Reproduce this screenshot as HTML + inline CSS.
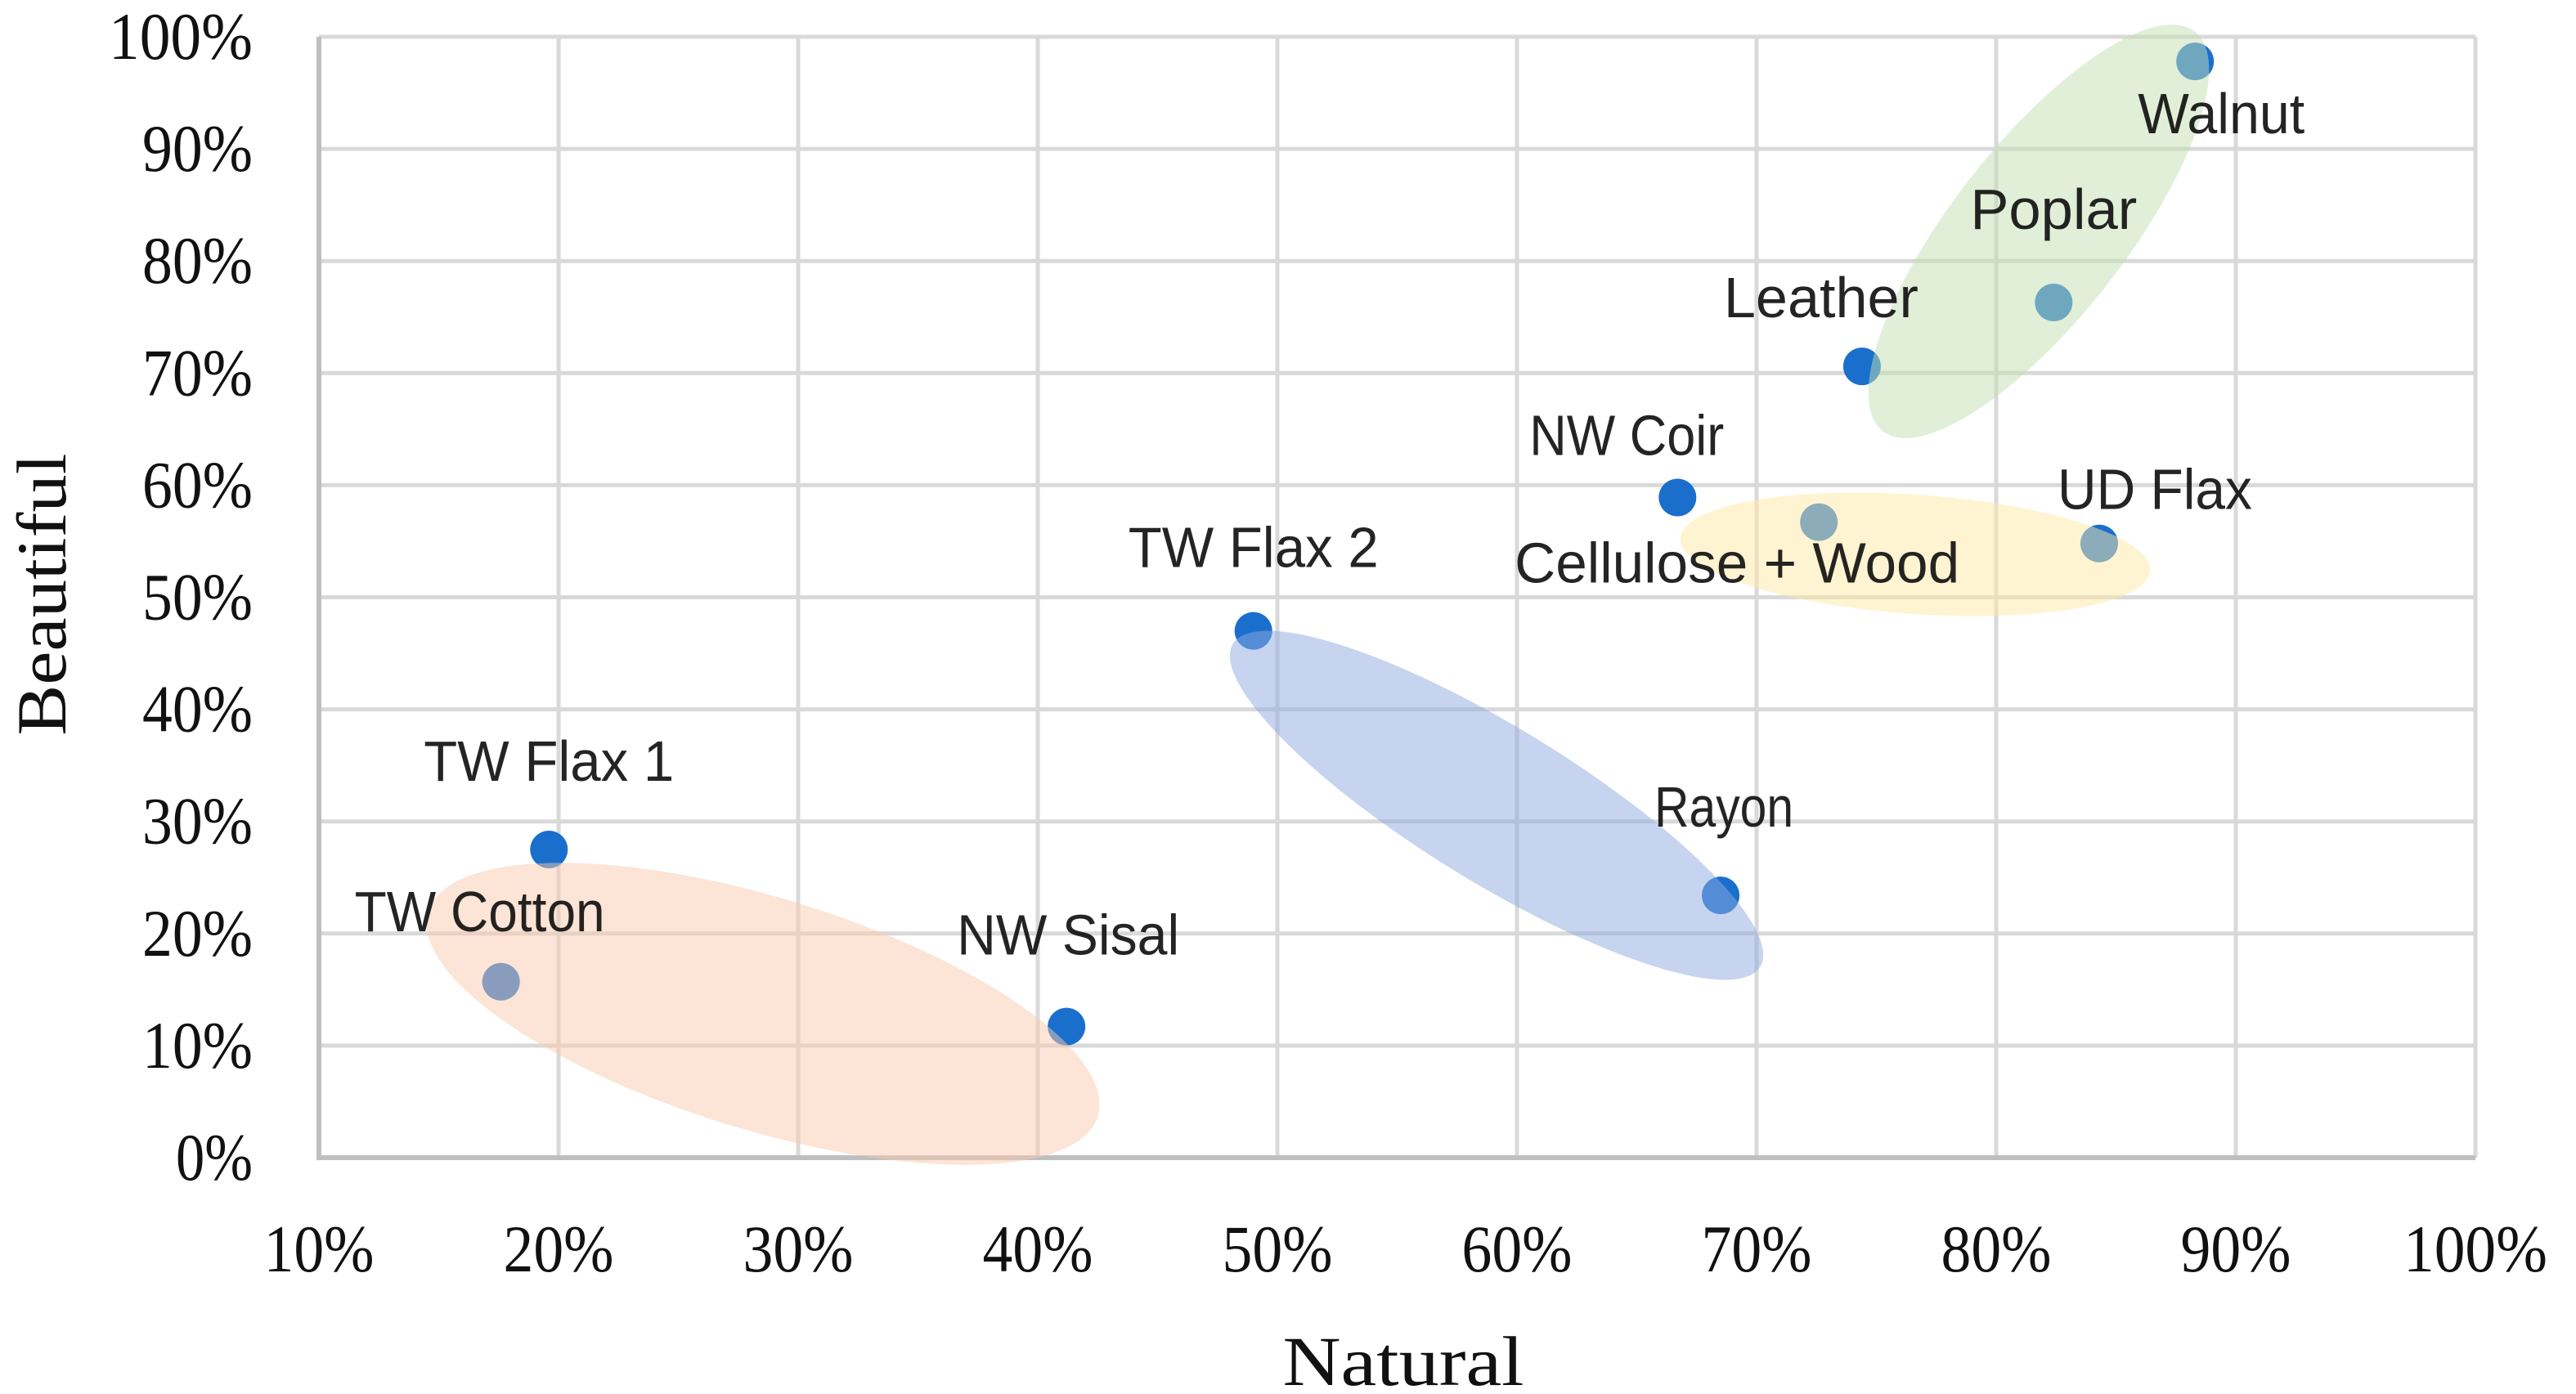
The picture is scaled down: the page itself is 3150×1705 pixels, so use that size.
<!DOCTYPE html>
<html><head><meta charset="utf-8"><style>
html,body{margin:0;padding:0;background:#fff;}
svg{display:block;}
</style></head><body>
<svg id="chart" width="3150" height="1705" viewBox="0 0 3150 1705" xmlns="http://www.w3.org/2000/svg">
<rect width="3150" height="1705" fill="#fff"/>
<g id="grid"></g>
<g id="points"></g>
<g id="clusters"></g>
<g id="labels"></g>
<g id="ticks"></g>
<text transform="translate(80,727) rotate(-90)" text-anchor="middle" font-family="Liberation Serif, serif" font-size="86" textLength="345" lengthAdjust="spacingAndGlyphs" fill="#111">Beautiful</text>
<text x="1716" y="1694" text-anchor="middle" font-family="Liberation Serif, serif" font-size="86" textLength="295" lengthAdjust="spacingAndGlyphs" fill="#111">Natural</text>
</svg>
<script>
const names = ["Walnut","Poplar","Leather","NW Coir","Cellulose + Wood","UD Flax","TW Flax 2","Rayon","TW Flax 1","TW Cotton","NW Sisal"];
const naturalVals = [88.3,82.4,74.4,66.7,72.6,84.3,49.0,68.5,19.6,17.6,41.2];
const beautifulVals = [97.8,76.3,70.6,58.9,56.7,54.8,47.0,23.4,27.5,15.7,11.7];
const xTicks = [10,20,30,40,50,60,70,80,90,100];
const yTicks = [0,10,20,30,40,50,60,70,80,90,100];
// label offsets (px) relative to point
const labelDx = [32,0,-50,-62,-100,68,0,4,0,-26,2];
const labelDy = [88,-90,-60,-52,74,-42,-78,-84,-84,-62,-88];

const NS="http://www.w3.org/2000/svg";
const L=390,R=3027,T=45,B=1416;
function X(v){return L+(v-10)/90*(R-L);}
function Y(v){return B-v/100*(B-T);}
function mk(tag,attrs,parent){const e=document.createElementNS(NS,tag);for(const k in attrs)e.setAttribute(k,attrs[k]);parent.appendChild(e);return e;}

const grid=document.getElementById('grid');
xTicks.forEach(t=>{const l=mk('line',{x1:X(t),x2:X(t),y1:T,y2:B,stroke:'#d9d9d9','stroke-width':5},grid);

});
yTicks.forEach(t=>{const l=mk('line',{x1:L,x2:R,y1:Y(t),y2:Y(t),stroke:'#d9d9d9','stroke-width':5},grid);

});
const ax1=mk('line',{x1:L,x2:L,y1:T,y2:B+3,stroke:'#bfbfbf','stroke-width':6},grid);


const ax2=mk('line',{x1:L-3,x2:R,y1:B,y2:B,stroke:'#bfbfbf','stroke-width':6},grid);



const ticks=document.getElementById('ticks');
yTicks.forEach(t=>{const s=t+'%';const e=mk('text',{x:309,y:Y(t)+27,'text-anchor':'end','font-family':'Liberation Serif, serif','font-size':82,textLength:s.length*41+12,lengthAdjust:'spacingAndGlyphs',fill:'#111'},ticks);e.textContent=s;

});
xTicks.forEach(t=>{const s=t+'%';const e=mk('text',{x:X(t),y:1555,'text-anchor':'middle','font-family':'Liberation Serif, serif','font-size':82,textLength:s.length*41+12,lengthAdjust:'spacingAndGlyphs',fill:'#111'},ticks);e.textContent=s;

});

const pts=document.getElementById('points');
names.forEach((n,i)=>{const c=mk('circle',{cx:X(naturalVals[i]),cy:Y(beautifulVals[i]),r:23,fill:'#1a6fcd'},pts);

});

const cl=document.getElementById('clusters');
const ells=[
 {cx:2493,cy:283,rx:310,ry:106,rot:-52,fill:'#c3dfb2',op:0.5,name:'cluster-wood'},
 {cx:2342,cy:678,rx:288,ry:73,rot:4,fill:'#ffe9a6',op:0.5,name:'cluster-cellulose'},
 {cx:1830,cy:985,rx:378,ry:95,rot:31.5,fill:'#8eaadf',op:0.5,name:'cluster-flax-rayon'},
 {cx:933,cy:1240,rx:428,ry:142,rot:17,fill:'#f9c9ad',op:0.5,name:'cluster-cotton-sisal'}];
ells.forEach(e=>{const el=mk('ellipse',{cx:e.cx,cy:e.cy,rx:e.rx,ry:e.ry,transform:`rotate(${e.rot} ${e.cx} ${e.cy})`,fill:e.fill,'fill-opacity':e.op},cl);

});

const lab=document.getElementById('labels');
names.forEach((n,i)=>{const e=mk('text',{x:X(naturalVals[i])+labelDx[i],y:Y(beautifulVals[i])+labelDy[i],'text-anchor':'middle','font-family':'Liberation Sans, sans-serif','font-size':70,textLength:n.length*34,lengthAdjust:'spacingAndGlyphs',fill:'#111','fill-opacity':0.92},lab);e.textContent=n;

});
</script>
</body></html>
